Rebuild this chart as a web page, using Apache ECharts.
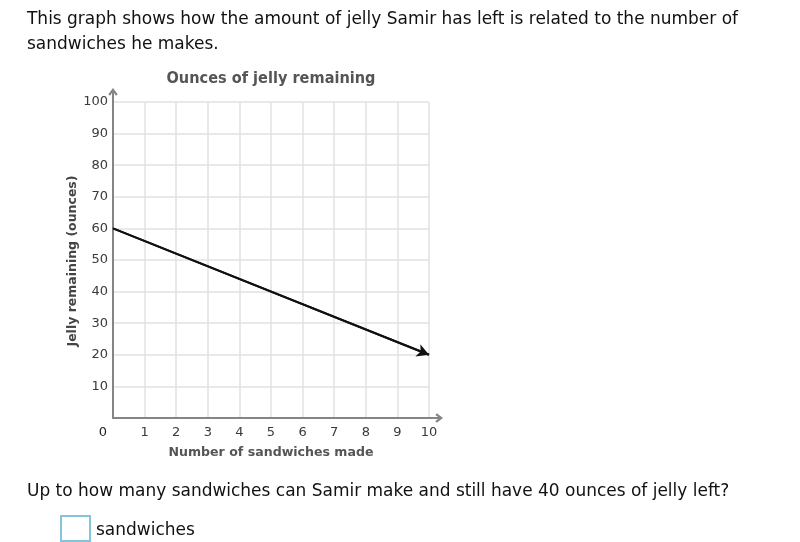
<!DOCTYPE html>
<html><head><meta charset="utf-8">
<script src="https://cdn.jsdelivr.net/npm/echarts@6/dist/echarts.min.js"></script>
<style>
body{margin:0;background:#fff;width:800px;height:542px;overflow:hidden;position:relative;font-family:"DejaVu Sans",Verdana,sans-serif;}
#chart{position:absolute;left:0;top:0;width:800px;height:542px;}
.t{position:absolute;font-size:17px;color:#111;white-space:nowrap;transform-origin:0 50%;line-height:20px;}
#box{position:absolute;left:60px;top:515px;width:27px;height:23px;border:2px solid #86c3dc;}
</style></head><body>
<div id="chart"></div>
<div class="t" id="l1" style="left:27px;top:8px">This graph shows how the amount of jelly Samir has left is related to the number of</div>
<div class="t" id="l2" style="left:27px;top:33px">sandwiches he makes.</div>
<div class="t" id="l3" style="left:27px;top:480px">Up to how many sandwiches can Samir make and still have 40 ounces of jelly left?</div>
<div id="box"></div>
<div class="t" id="l4" style="left:96px;top:519px">sandwiches</div>
<script>
// ---- data ----
const sandwiches = [0, 10];
const jelly = [60, 20];
const xTicks = [0, 1, 2, 3, 4, 5, 6, 7, 8, 9, 10];
const yTicks = [0, 10, 20, 30, 40, 50, 60, 70, 80, 90, 100];
const chartTitle = 'Ounces of jelly remaining';
const xName = 'Number of sandwiches made';
const yName = 'Jelly remaining (ounces)';

const FONT = '"DejaVu Sans", Verdana, sans-serif';
const cv = document.createElement('canvas').getContext('2d');
function measure(text, font) { cv.font = font; return cv.measureText(text).width; }

// scale HTML text to match reference widths
const sBody = 711 / measure(document.getElementById('l1').textContent, '17px ' + FONT);
['l1', 'l2', 'l3', 'l4'].forEach(id => {
  document.getElementById(id).style.transform = 'scaleX(' + sBody + ')';
});

const titleFont = 'bold 16px ' + FONT;
const sTitle = 209 / measure(chartTitle, titleFont);
const xNameFont = 'bold 13px ' + FONT;
const sXName = 205 / measure(xName, xNameFont);
const yNameFont = 'bold 13px ' + FONT;
const sYName = 171 / measure(yName, yNameFont);

const arrowPath = 'path://M5 0 L10 6.6 L8.2 8.2 L6.1 5.3 L6.1 15 L3.9 15 L3.9 5.3 L1.8 8.2 L0 6.6 Z';

const chart = echarts.init(document.getElementById('chart'), null, {renderer: 'canvas'});
const axisCommon = {
  type: 'value',
  axisLine: {show: true, onZero: true, lineStyle: {color: '#858585', width: 2},
    symbol: ['none', arrowPath], symbolSize: [10, 14], symbolOffset: [0, 7]},
  axisTick: {show: false},
  splitLine: {show: true, lineStyle: {color: '#e2e2e2', width: 1.5}}
};
const option = {
  animation: false,
  grid: {left: 113, right: 371, top: 102, bottom: 124, containLabel: false},
  xAxis: Object.assign({}, axisCommon, {
    min: xTicks[0], max: xTicks[xTicks.length - 1], interval: xTicks[1] - xTicks[0],
    axisLabel: {margin: 8, fontSize: 13, color: '#3a3a3a', fontFamily: FONT,
      formatter: v => v === 0 ? '{z|0}' : String(v),
      rich: {z: {padding: [0, 20, 0, 0], fontSize: 13, color: '#222', fontFamily: FONT}}}
  }),
  yAxis: Object.assign({}, axisCommon, {
    min: yTicks[0], max: yTicks[yTicks.length - 1], interval: yTicks[1] - yTicks[0],
    axisLabel: {margin: 5, fontSize: 13, color: '#3a3a3a', fontFamily: FONT, showMinLabel: false}
  }),
  series: [{
    type: 'line',
    data: sandwiches.map((x, i) => [x, jelly[i]]),
    showSymbol: false,
    symbol: 'none',
    lineStyle: {color: '#111', width: 2},
    z: 5,
    markLine: {
      silent: true,
      symbol: ['none', 'arrow'],
      symbolSize: [10, 12],
      label: {show: false},
      lineStyle: {color: '#111', width: 2, type: 'solid'},
      data: [[{coord: [sandwiches[0], jelly[0]]}, {coord: [sandwiches[sandwiches.length - 1], jelly[jelly.length - 1]]}]]
    }
  }],
  graphic: [
    {type: 'text', x: 271, y: 79, scaleX: sTitle,
      style: {text: chartTitle, font: titleFont, fill: '#555', align: 'center', verticalAlign: 'middle'}},
    {type: 'text', x: 271, y: 453, scaleX: sXName,
      style: {text: xName, font: xNameFont, fill: '#555', align: 'center', verticalAlign: 'middle'}},
    {type: 'text', x: 73, y: 261, rotation: Math.PI / 2, scaleX: sYName,
      style: {text: yName, font: yNameFont, fill: '#444', align: 'center', verticalAlign: 'middle'}}
  ]
};
chart.setOption(option);
</script>
</body></html>
